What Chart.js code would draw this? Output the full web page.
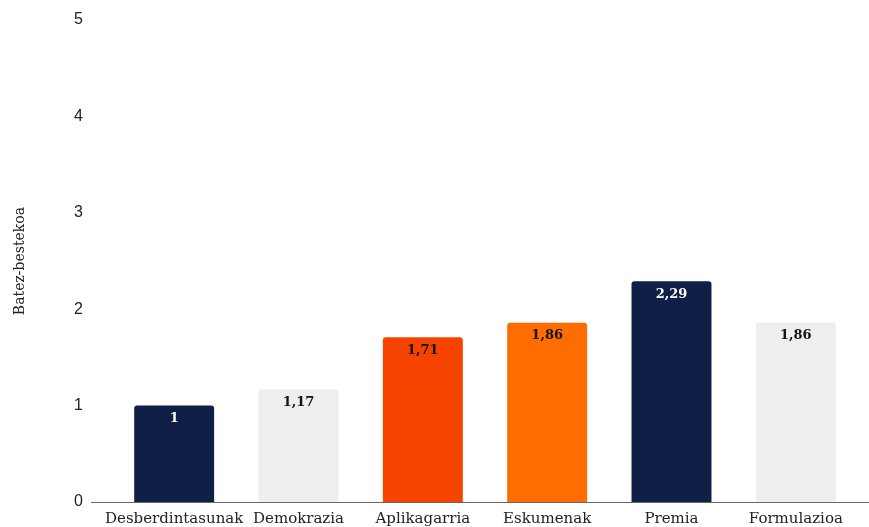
<!DOCTYPE html>
<html>
<head>
<meta charset="utf-8">
<script src="https://cdn.jsdelivr.net/npm/chart.js@4"></script>
<style>
  html, body { margin: 0; padding: 0; background: #fff; overflow: hidden; }
  canvas { display: block; }
</style>
</head>
<body>
<canvas id="chart" width="869" height="527"></canvas>
<script>
const categories = ['Desberdintasunak', 'Demokrazia', 'Aplikagarria', 'Eskumenak', 'Premia', 'Formulazioa'];
const values = [1, 1.17, 1.71, 1.86, 2.29, 1.86];
const barColors = ['#0f1f45', '#eeeeee', '#f74300', '#ff6d00', '#0f1f45', '#eeeeee'];
const labelColors = ['#ffffff', '#111111', '#111111', '#111111', '#ffffff', '#111111'];
const yTicks = [0, 1, 2, 3, 4, 5];

const serif = '"DejaVu Serif", Georgia, serif';

// value labels just inside the top of each bar
const valueLabels = {
    id: 'valueLabels',
    afterDatasetsDraw(chart) {
        const ctx = chart.ctx;
        const meta = chart.getDatasetMeta(0);
        ctx.save();
        ctx.font = 'bold 13px ' + serif;
        ctx.textAlign = 'center';
        ctx.textBaseline = 'middle';
        meta.data.forEach((bar, i) => {
            ctx.fillStyle = labelColors[i];
            ctx.fillText(String(values[i]).replace('.', ','), bar.x, bar.y + 13);
        });
        ctx.restore();
    }
};

// baseline runs a little past the plot area on both sides
const baseline = {
    id: 'baseline',
    afterDatasetsDraw(chart) {
        const ctx = chart.ctx;
        const y = Math.round(chart.scales.y.getPixelForValue(0)) + 0.5;
        ctx.save();
        ctx.strokeStyle = '#666';
        ctx.lineWidth = 1;
        ctx.beginPath();
        ctx.moveTo(chart.chartArea.left - 21, y);
        ctx.lineTo(chart.width, y);
        ctx.stroke();
        ctx.restore();
    }
};

new Chart(document.getElementById('chart').getContext('2d'), {
    type: 'bar',
    data: {
        labels: categories,
        datasets: [{
            data: values,
            backgroundColor: barColors,
            borderWidth: 0,
            borderRadius: 3,
            borderSkipped: 'bottom',
            barPercentage: 0.643,
            categoryPercentage: 1
        }]
    },
    options: {
        responsive: false,
        animation: false,
        layout: { padding: { top: 20, right: 11, bottom: 0, left: 0 } },
        plugins: {
            legend: { display: false },
            tooltip: { enabled: false }
        },
        scales: {
            x: {
                grid: { display: false },
                border: { display: false },
                ticks: {
                    color: '#222',
                    font: { family: serif, size: 15 },
                    padding: 0,
                    maxRotation: 0,
                    autoSkip: false
                },
                afterFit(scale) { scale.height = 25; }
            },
            y: {
                min: 0,
                max: 5,
                grid: { display: false, tickLength: 26 },
                border: { display: false },
                ticks: {
                    stepSize: 1,
                    color: '#222',
                    font: { family: '"Liberation Sans", Arial, sans-serif', size: 16 },
                    padding: 3,
                    callback: (v, i) => yTicks[i]
                },
                title: {
                    display: true,
                    text: 'Batez-bestekoa',
                    color: '#222',
                    font: { family: serif, size: 14 },
                    padding: { top: 12, bottom: 0 }
                },
                afterFit(scale) { scale.width = 112; }
            }
        }
    },
    plugins: [valueLabels, baseline]
});
</script>
</body>
</html>
